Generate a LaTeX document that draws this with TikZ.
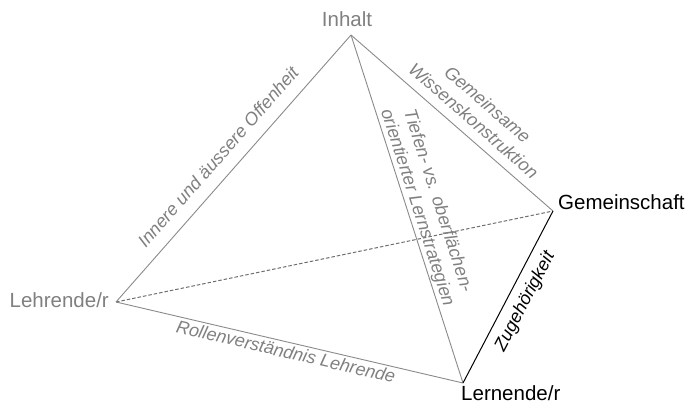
\documentclass[tikz,border=0pt]{standalone}
\usepackage{fontspec}
\setmainfont{Liberation Sans}
\definecolor{edgegray}{HTML}{8A8A8A}
\definecolor{dashgray}{HTML}{6E6E6E}
\definecolor{textgray}{HTML}{808080}
\begin{document}
\begin{tikzpicture}[x=1pt,y=-1pt,
  vlabel/.style={inner sep=0pt,font=\fontsize{20.5}{24}\selectfont},
  elabel/.style={inner sep=0pt,sloped,font=\fontsize{18}{21.5}\selectfont\itshape},
  thinedge/.style={draw=edgegray,line width=0.9pt},
  hiddenedge/.style={draw=dashgray,line width=1pt,dash pattern=on 3.5pt off 2pt},
  strongedge/.style={draw=black,line width=1pt}]
\useasboundingbox (0,0) rectangle (692,403);

% corners of the tetrahedron
\coordinate (I) at (351,35);
\coordinate (T) at (116,302);
\coordinate (G) at (553,211);
\coordinate (L) at (463,383);

% corner names
\node[vlabel,text=textgray,anchor=base] (Ilab) at ([shift={(-4,-8)}]I) {Inhalt};
\node[vlabel,text=textgray,anchor=base east] (Tlab) at ([shift={(-7,5)}]T) {Lehrende/r};
\node[vlabel,anchor=base west] (Glab) at ([shift={(5,-1)}]G) {Gemeinschaft};
\node[vlabel,anchor=base west] (Llab) at ([shift={(-2,17)}]L) {Lernende/r};

% edges with their labels
\path[hiddenedge] (T) -- (G);
\path[thinedge] (T) -- (I)
  node[elabel,text=textgray,pos=0.496,anchor=base,yshift=13pt] (eTI) {Innere und äussere Offenheit};
\path[thinedge] (T) -- (L)
  node[elabel,text=textgray,pos=0.496,anchor=base,yshift=-16pt] (eTL) {Rollenverständnis Lehrende};
\path[thinedge] (I) -- (G)
  node[elabel,text=textgray,pos=0.555,anchor=south,align=center,yshift=9pt] (eIG) {Gemeinsame\\Wissenskonstruktion};
\path[thinedge] (I) -- (L)
  node[elabel,text=textgray,pos=0.505,anchor=south,align=center,yshift=1pt] (eIL) {Tiefen- vs. oberflächen-\\orientierter Lernstrategien};
\path[strongedge] (L) -- (G)
  node[elabel,pos=0.52,anchor=base,yshift=-22pt] (eLG) {Zugehörigkeit};
\end{tikzpicture}
\end{document}
